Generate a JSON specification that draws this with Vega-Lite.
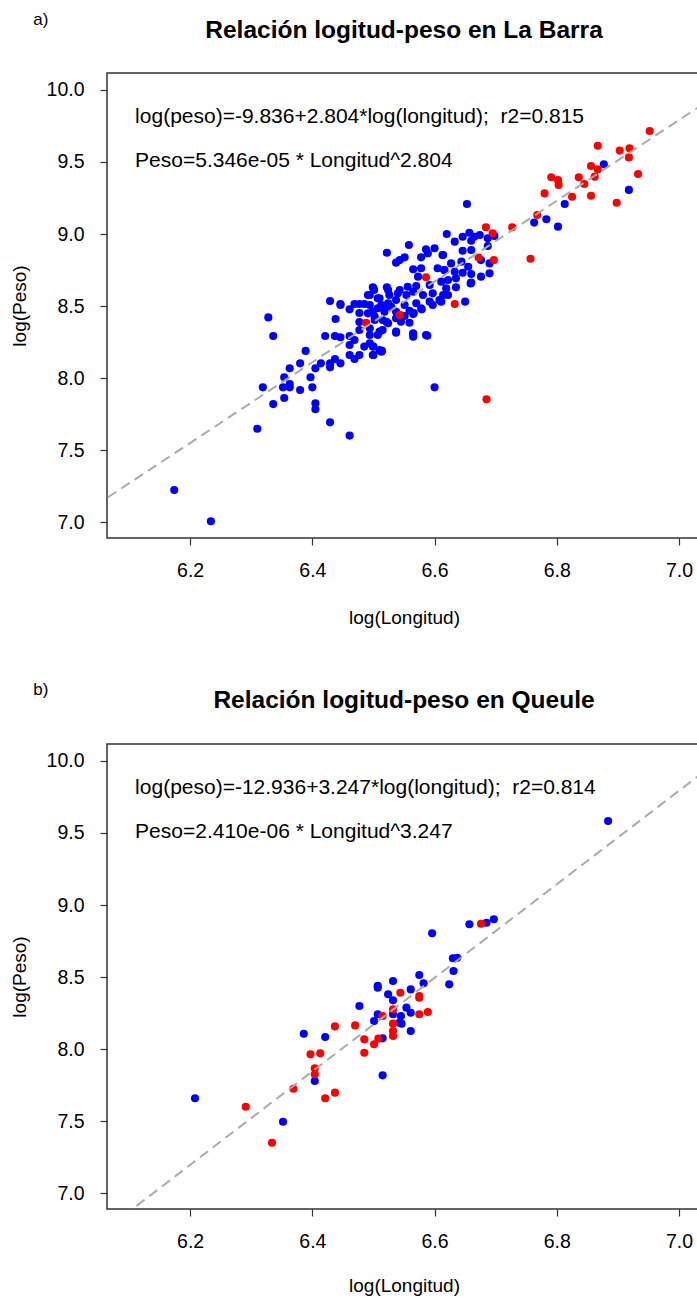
{
"$schema": "https://vega.github.io/schema/vega-lite/v6.json",
"background": "white",
"padding": {"left": 9, "top": 10, "right": 0, "bottom": 3},
"spacing": 51,
"datasets": {
"barra": [
{"longitud":6.174,"peso":7.222,"grupo":"azul"},{"longitud":6.234,"peso":7.005,"grupo":"azul"},{"longitud":6.310,"peso":7.648,"grupo":"azul"},{"longitud":6.328,"peso":8.421,"grupo":"azul"},{"longitud":6.336,"peso":8.292,"grupo":"azul"},{"longitud":6.319,"peso":7.935,"grupo":"azul"},{"longitud":6.336,"peso":7.819,"grupo":"azul"},{"longitud":6.354,"peso":7.861,"grupo":"azul"},{"longitud":6.354,"peso":8.005,"grupo":"azul"},{"longitud":6.363,"peso":8.067,"grupo":"azul"},{"longitud":6.352,"peso":7.935,"grupo":"azul"},{"longitud":6.363,"peso":7.935,"grupo":"azul"},{"longitud":6.363,"peso":7.958,"grupo":"azul"},{"longitud":6.380,"peso":7.917,"grupo":"azul"},{"longitud":6.380,"peso":8.102,"grupo":"azul"},{"longitud":6.389,"peso":8.188,"grupo":"azul"},{"longitud":6.397,"peso":8.005,"grupo":"azul"},{"longitud":6.400,"peso":7.935,"grupo":"azul"},{"longitud":6.405,"peso":7.824,"grupo":"azul"},{"longitud":6.405,"peso":7.783,"grupo":"azul"},{"longitud":6.405,"peso":8.067,"grupo":"azul"},{"longitud":6.414,"peso":8.102,"grupo":"azul"},{"longitud":6.429,"peso":7.692,"grupo":"azul"},{"longitud":6.461,"peso":7.600,"grupo":"azul"},{"longitud":6.429,"peso":8.074,"grupo":"azul"},{"longitud":6.429,"peso":8.102,"grupo":"azul"},{"longitud":6.437,"peso":8.132,"grupo":"azul"},{"longitud":6.446,"peso":8.102,"grupo":"azul"},{"longitud":6.421,"peso":8.292,"grupo":"azul"},{"longitud":6.437,"peso":8.292,"grupo":"azul"},{"longitud":6.446,"peso":8.283,"grupo":"azul"},{"longitud":6.461,"peso":8.292,"grupo":"azul"},{"longitud":6.438,"peso":8.410,"grupo":"azul"},{"longitud":6.429,"peso":8.535,"grupo":"azul"},{"longitud":6.446,"peso":8.514,"grupo":"azul"},{"longitud":6.461,"peso":8.229,"grupo":"azul"},{"longitud":6.469,"peso":8.264,"grupo":"azul"},{"longitud":6.461,"peso":8.160,"grupo":"azul"},{"longitud":6.469,"peso":8.132,"grupo":"azul"},{"longitud":6.477,"peso":8.160,"grupo":"azul"},{"longitud":6.485,"peso":8.218,"grupo":"azul"},{"longitud":6.500,"peso":8.160,"grupo":"azul"},{"longitud":6.500,"peso":8.218,"grupo":"azul"},{"longitud":6.514,"peso":8.188,"grupo":"azul"},{"longitud":6.461,"peso":8.477,"grupo":"azul"},{"longitud":6.469,"peso":8.514,"grupo":"azul"},{"longitud":6.477,"peso":8.514,"grupo":"azul"},{"longitud":6.485,"peso":8.514,"grupo":"azul"},{"longitud":6.477,"peso":8.451,"grupo":"azul"},{"longitud":6.477,"peso":8.389,"grupo":"azul"},{"longitud":6.477,"peso":8.333,"grupo":"azul"},{"longitud":6.494,"peso":8.299,"grupo":"azul"},{"longitud":6.507,"peso":8.299,"grupo":"azul"},{"longitud":6.515,"peso":8.333,"grupo":"azul"},{"longitud":6.524,"peso":8.380,"grupo":"azul"},{"longitud":6.537,"peso":8.322,"grupo":"azul"},{"longitud":6.499,"peso":8.630,"grupo":"azul"},{"longitud":6.522,"peso":8.630,"grupo":"azul"},{"longitud":6.491,"peso":8.576,"grupo":"azul"},{"longitud":6.507,"peso":8.553,"grupo":"azul"},{"longitud":6.524,"peso":8.519,"grupo":"azul"},{"longitud":6.540,"peso":8.588,"grupo":"azul"},{"longitud":6.507,"peso":8.484,"grupo":"azul"},{"longitud":6.521,"peso":8.484,"grupo":"azul"},{"longitud":6.491,"peso":8.449,"grupo":"azul"},{"longitud":6.502,"peso":8.426,"grupo":"azul"},{"longitud":6.515,"peso":8.403,"grupo":"azul"},
{"longitud":6.558,"peso":8.924,"grupo":"azul"},{"longitud":6.522,"peso":8.870,"grupo":"azul"},{"longitud":6.551,"peso":8.838,"grupo":"azul"},{"longitud":6.543,"peso":8.819,"grupo":"azul"},{"longitud":6.537,"peso":8.801,"grupo":"azul"},{"longitud":6.586,"peso":8.894,"grupo":"azul"},{"longitud":6.600,"peso":8.901,"grupo":"azul"},{"longitud":6.589,"peso":8.866,"grupo":"azul"},{"longitud":6.578,"peso":8.838,"grupo":"azul"},{"longitud":6.613,"peso":8.854,"grupo":"azul"},{"longitud":6.565,"peso":8.755,"grupo":"azul"},{"longitud":6.578,"peso":8.762,"grupo":"azul"},{"longitud":6.605,"peso":8.762,"grupo":"azul"},{"longitud":6.616,"peso":8.750,"grupo":"azul"},{"longitud":6.573,"peso":8.704,"grupo":"azul"},{"longitud":6.500,"peso":8.623,"grupo":"azul"},{"longitud":6.543,"peso":8.611,"grupo":"azul"},{"longitud":6.556,"peso":8.634,"grupo":"azul"},{"longitud":6.570,"peso":8.639,"grupo":"azul"},{"longitud":6.592,"peso":8.646,"grupo":"azul"},{"longitud":6.611,"peso":8.669,"grupo":"azul"},{"longitud":6.494,"peso":8.576,"grupo":"azul"},{"longitud":6.510,"peso":8.553,"grupo":"azul"},{"longitud":6.526,"peso":8.576,"grupo":"azul"},{"longitud":6.537,"peso":8.542,"grupo":"azul"},{"longitud":6.554,"peso":8.576,"grupo":"azul"},{"longitud":6.565,"peso":8.599,"grupo":"azul"},{"longitud":6.581,"peso":8.576,"grupo":"azul"},{"longitud":6.597,"peso":8.588,"grupo":"azul"},{"longitud":6.494,"peso":8.507,"grupo":"azul"},{"longitud":6.513,"peso":8.507,"grupo":"azul"},{"longitud":6.529,"peso":8.495,"grupo":"azul"},{"longitud":6.551,"peso":8.507,"grupo":"azul"},{"longitud":6.570,"peso":8.519,"grupo":"azul"},{"longitud":6.592,"peso":8.530,"grupo":"azul"},{"longitud":6.608,"peso":8.542,"grupo":"azul"},{"longitud":6.499,"peso":8.460,"grupo":"azul"},{"longitud":6.518,"peso":8.460,"grupo":"azul"},{"longitud":6.537,"peso":8.460,"grupo":"azul"},{"longitud":6.559,"peso":8.467,"grupo":"azul"},{"longitud":6.578,"peso":8.484,"grupo":"azul"},{"longitud":6.597,"peso":8.507,"grupo":"azul"},{"longitud":6.565,"peso":8.444,"grupo":"azul"},{"longitud":6.502,"peso":8.403,"grupo":"azul"},{"longitud":6.521,"peso":8.391,"grupo":"azul"},{"longitud":6.537,"peso":8.415,"grupo":"azul"},{"longitud":6.559,"peso":8.384,"grupo":"azul"},{"longitud":6.494,"peso":8.345,"grupo":"azul"},{"longitud":6.510,"peso":8.322,"grupo":"azul"},{"longitud":6.537,"peso":8.315,"grupo":"azul"},{"longitud":6.565,"peso":8.306,"grupo":"azul"},{"longitud":6.586,"peso":8.299,"grupo":"azul"},{"longitud":6.494,"peso":8.241,"grupo":"azul"},{"longitud":6.499,"peso":8.218,"grupo":"azul"},{"longitud":6.510,"peso":8.194,"grupo":"azul"},{"longitud":6.499,"peso":8.160,"grupo":"azul"},{"longitud":6.513,"peso":8.183,"grupo":"azul"},
{"longitud":6.653,"peso":9.208,"grupo":"azul"},{"longitud":6.620,"peso":9.000,"grupo":"azul"},{"longitud":6.633,"peso":8.947,"grupo":"azul"},{"longitud":6.646,"peso":8.981,"grupo":"azul"},{"longitud":6.657,"peso":9.009,"grupo":"azul"},{"longitud":6.665,"peso":8.981,"grupo":"azul"},{"longitud":6.674,"peso":8.993,"grupo":"azul"},{"longitud":6.660,"peso":8.953,"grupo":"azul"},{"longitud":6.687,"peso":8.970,"grupo":"azul"},{"longitud":6.698,"peso":8.986,"grupo":"azul"},{"longitud":6.687,"peso":8.917,"grupo":"azul"},{"longitud":6.614,"peso":8.854,"grupo":"azul"},{"longitud":6.646,"peso":8.884,"grupo":"azul"},{"longitud":6.660,"peso":8.889,"grupo":"azul"},{"longitud":6.676,"peso":8.819,"grupo":"azul"},{"longitud":6.690,"peso":8.796,"grupo":"azul"},{"longitud":6.627,"peso":8.796,"grupo":"azul"},{"longitud":6.644,"peso":8.808,"grupo":"azul"},{"longitud":6.655,"peso":8.773,"grupo":"azul"},{"longitud":6.616,"peso":8.750,"grupo":"azul"},{"longitud":6.633,"peso":8.738,"grupo":"azul"},{"longitud":6.646,"peso":8.731,"grupo":"azul"},{"longitud":6.660,"peso":8.722,"grupo":"azul"},{"longitud":6.690,"peso":8.727,"grupo":"azul"},{"longitud":6.676,"peso":8.704,"grupo":"azul"},{"longitud":6.622,"peso":8.681,"grupo":"azul"},{"longitud":6.635,"peso":8.692,"grupo":"azul"},{"longitud":6.660,"peso":8.662,"grupo":"azul"},{"longitud":6.619,"peso":8.623,"grupo":"azul"},{"longitud":6.635,"peso":8.630,"grupo":"azul"},{"longitud":6.614,"peso":8.576,"grupo":"azul"},{"longitud":6.622,"peso":8.576,"grupo":"azul"},{"longitud":6.611,"peso":8.530,"grupo":"azul"},{"longitud":6.650,"peso":8.530,"grupo":"azul"},
{"longitud":6.877,"peso":9.484,"grupo":"azul"},{"longitud":6.918,"peso":9.306,"grupo":"azul"},{"longitud":6.813,"peso":9.208,"grupo":"azul"},{"longitud":6.763,"peso":9.079,"grupo":"azul"},{"longitud":6.783,"peso":9.102,"grupo":"azul"},{"longitud":6.802,"peso":9.051,"grupo":"azul"},
{"longitud":6.659,"peso":8.657,"grupo":"azul"},{"longitud":6.565,"peso":8.310,"grupo":"azul"},{"longitud":6.565,"peso":8.287,"grupo":"azul"},{"longitud":6.588,"peso":8.294,"grupo":"azul"},{"longitud":6.600,"peso":7.935,"grupo":"azul"},{"longitud":6.579,"peso":8.477,"grupo":"azul"},{"longitud":6.566,"peso":8.451,"grupo":"azul"},{"longitud":6.551,"peso":8.431,"grupo":"azul"},{"longitud":6.545,"peso":8.391,"grupo":"azul"},{"longitud":6.501,"peso":8.611,"grupo":"azul"},{"longitud":6.524,"peso":8.611,"grupo":"azul"},{"longitud":6.446,"peso":8.507,"grupo":"azul"},
{"longitud":6.952,"peso":9.715,"grupo":"rojo"},{"longitud":6.867,"peso":9.613,"grupo":"rojo"},{"longitud":6.903,"peso":9.579,"grupo":"rojo"},{"longitud":6.919,"peso":9.595,"grupo":"rojo"},{"longitud":6.918,"peso":9.532,"grupo":"rojo"},{"longitud":6.856,"peso":9.472,"grupo":"rojo"},{"longitud":6.867,"peso":9.449,"grupo":"rojo"},{"longitud":6.862,"peso":9.398,"grupo":"rojo"},{"longitud":6.933,"peso":9.417,"grupo":"rojo"},{"longitud":6.791,"peso":9.394,"grupo":"rojo"},{"longitud":6.802,"peso":9.375,"grupo":"rojo"},{"longitud":6.803,"peso":9.340,"grupo":"rojo"},{"longitud":6.836,"peso":9.394,"grupo":"rojo"},{"longitud":6.845,"peso":9.347,"grupo":"rojo"},{"longitud":6.780,"peso":9.282,"grupo":"rojo"},{"longitud":6.825,"peso":9.259,"grupo":"rojo"},{"longitud":6.856,"peso":9.266,"grupo":"rojo"},{"longitud":6.898,"peso":9.217,"grupo":"rojo"},{"longitud":6.768,"peso":9.132,"grupo":"rojo"},{"longitud":6.684,"peso":9.047,"grupo":"rojo"},{"longitud":6.727,"peso":9.047,"grupo":"rojo"},{"longitud":6.695,"peso":9.005,"grupo":"rojo"},{"longitud":6.672,"peso":8.836,"grupo":"rojo"},{"longitud":6.697,"peso":8.819,"grupo":"rojo"},{"longitud":6.757,"peso":8.828,"grupo":"rojo"},{"longitud":6.586,"peso":8.699,"grupo":"rojo"},{"longitud":6.633,"peso":8.514,"grupo":"rojo"},{"longitud":6.543,"peso":8.438,"grupo":"rojo"},{"longitud":6.488,"peso":8.384,"grupo":"rojo"},{"longitud":6.685,"peso":7.852,"grupo":"rojo"}
],
"queule": [
{"longitud":6.208,"peso":7.658,"grupo":"azul"},{"longitud":6.352,"peso":7.495,"grupo":"azul"},{"longitud":6.404,"peso":7.778,"grupo":"azul"},{"longitud":6.386,"peso":8.106,"grupo":"azul"},{"longitud":6.421,"peso":8.083,"grupo":"azul"},{"longitud":6.477,"peso":8.299,"grupo":"azul"},{"longitud":6.515,"peso":8.074,"grupo":"azul"},{"longitud":6.515,"peso":7.817,"grupo":"azul"},{"longitud":6.501,"peso":8.194,"grupo":"azul"},{"longitud":6.507,"peso":8.241,"grupo":"azul"},{"longitud":6.507,"peso":8.438,"grupo":"azul"},{"longitud":6.507,"peso":8.426,"grupo":"azul"},{"longitud":6.532,"peso":8.472,"grupo":"azul"},{"longitud":6.524,"peso":8.380,"grupo":"azul"},{"longitud":6.532,"peso":8.338,"grupo":"azul"},{"longitud":6.532,"peso":8.241,"grupo":"azul"},{"longitud":6.543,"peso":8.183,"grupo":"azul"},{"longitud":6.697,"peso":8.901,"grupo":"azul"},{"longitud":6.685,"peso":8.877,"grupo":"azul"},{"longitud":6.657,"peso":8.866,"grupo":"azul"},{"longitud":6.596,"peso":8.803,"grupo":"azul"},{"longitud":6.630,"peso":8.630,"grupo":"azul"},{"longitud":6.637,"peso":8.634,"grupo":"azul"},{"longitud":6.631,"peso":8.542,"grupo":"azul"},{"longitud":6.624,"peso":8.449,"grupo":"azul"},{"longitud":6.575,"peso":8.514,"grupo":"azul"},{"longitud":6.582,"peso":8.456,"grupo":"azul"},{"longitud":6.561,"peso":8.414,"grupo":"azul"},{"longitud":6.554,"peso":8.287,"grupo":"azul"},{"longitud":6.561,"peso":8.252,"grupo":"azul"},{"longitud":6.545,"peso":8.229,"grupo":"azul"},{"longitud":6.546,"peso":8.176,"grupo":"azul"},{"longitud":6.561,"peso":8.125,"grupo":"azul"},{"longitud":6.884,"peso":9.583,"grupo":"azul"},
{"longitud":6.291,"peso":7.599,"grupo":"rojo"},{"longitud":6.334,"peso":7.349,"grupo":"rojo"},{"longitud":6.369,"peso":7.724,"grupo":"rojo"},{"longitud":6.404,"peso":7.824,"grupo":"rojo"},{"longitud":6.404,"peso":7.866,"grupo":"rojo"},{"longitud":6.397,"peso":7.963,"grupo":"rojo"},{"longitud":6.413,"peso":7.970,"grupo":"rojo"},{"longitud":6.421,"peso":7.658,"grupo":"rojo"},{"longitud":6.437,"peso":7.697,"grupo":"rojo"},{"longitud":6.437,"peso":8.157,"grupo":"rojo"},{"longitud":6.470,"peso":8.164,"grupo":"rojo"},{"longitud":6.485,"peso":8.067,"grupo":"rojo"},{"longitud":6.485,"peso":7.974,"grupo":"rojo"},{"longitud":6.501,"peso":8.033,"grupo":"rojo"},{"longitud":6.508,"peso":8.072,"grupo":"rojo"},{"longitud":6.515,"peso":8.229,"grupo":"rojo"},{"longitud":6.532,"peso":8.276,"grupo":"rojo"},{"longitud":6.532,"peso":8.176,"grupo":"rojo"},{"longitud":6.532,"peso":8.125,"grupo":"rojo"},{"longitud":6.532,"peso":8.090,"grupo":"rojo"},{"longitud":6.544,"peso":8.391,"grupo":"rojo"},{"longitud":6.575,"peso":8.368,"grupo":"rojo"},{"longitud":6.575,"peso":8.356,"grupo":"rojo"},{"longitud":6.575,"peso":8.241,"grupo":"rojo"},{"longitud":6.589,"peso":8.257,"grupo":"rojo"},{"longitud":6.676,"peso":8.870,"grupo":"rojo"}
]
},
"vconcat": [
{
"title": {"text": "a)", "anchor": "start", "frame": "bounds", "fontSize": 17, "fontWeight": "normal", "dx": 24, "offset": -12},
"vconcat": [{
"width": 594, "height": 465,
"title": {"text": "Relación logitud-peso en La Barra", "frame": "group", "anchor": "middle", "fontSize": 24.5, "fontWeight": "bold", "offset": 30},
"layer": [
{"data": {"name": "barra"},
 "mark": {"type": "circle", "size": 66, "opacity": 1},
 "encoding": {
  "x": {"field": "longitud", "type": "quantitative", "scale": {"domain": [6.064, 7.036], "nice": false, "zero": false}, "axis": {"title": "log(Longitud)", "values": [6.2, 6.4, 6.6, 6.8, 7.0], "format": ".1f"}},
  "y": {"field": "peso", "type": "quantitative", "scale": {"domain": [6.889, 10.118], "nice": false, "zero": false}, "axis": {"title": "log(Peso)", "values": [7, 7.5, 8, 8.5, 9, 9.5, 10], "format": ".1f"}},
  "color": {"field": "grupo", "type": "nominal", "scale": {"domain": ["azul", "rojo"], "range": ["#0000FF", "#FF0000"]}, "legend": null}}},
{"data": {"values": [{}]},
 "mark": {"type": "rule", "clip": true, "strokeDash": [10, 6], "color": "#AAAAAA", "strokeWidth": 2},
 "encoding": {
  "x": {"datum": 6.0, "type": "quantitative", "scale": {"domain": [6.064, 7.036], "nice": false, "zero": false}},
  "y": {"datum": 6.988, "type": "quantitative", "scale": {"domain": [6.889, 10.118], "nice": false, "zero": false}},
  "x2": {"datum": 7.1}, "y2": {"datum": 10.072}}},
{"data": {"values": [{}]},
 "mark": {"type": "text", "align": "left", "baseline": "middle", "fontSize": 21, "text": "log(peso)=-9.836+2.804*log(longitud); \u00a0r2=0.815"},
 "encoding": {
  "x": {"datum": 6.11, "type": "quantitative", "scale": {"domain": [6.064, 7.036], "nice": false, "zero": false}},
  "y": {"datum": 9.81, "type": "quantitative", "scale": {"domain": [6.889, 10.118], "nice": false, "zero": false}}}},
{"data": {"values": [{}]},
 "mark": {"type": "text", "align": "left", "baseline": "middle", "fontSize": 21, "text": "Peso=5.346e-05 * Longitud^2.804"},
 "encoding": {
  "x": {"datum": 6.11, "type": "quantitative", "scale": {"domain": [6.064, 7.036], "nice": false, "zero": false}},
  "y": {"datum": 9.51, "type": "quantitative", "scale": {"domain": [6.889, 10.118], "nice": false, "zero": false}}}}
]
}]
},
{
"title": {"text": "b)", "anchor": "start", "frame": "bounds", "fontSize": 17, "fontWeight": "normal", "dx": 24, "offset": -12},
"vconcat": [{
"width": 594, "height": 465,
"title": {"text": "Relación logitud-peso en Queule", "frame": "group", "anchor": "middle", "fontSize": 24.5, "fontWeight": "bold", "offset": 31},
"layer": [
{"data": {"name": "queule"},
 "mark": {"type": "circle", "size": 66, "opacity": 1},
 "encoding": {
  "x": {"field": "longitud", "type": "quantitative", "scale": {"domain": [6.064, 7.036], "nice": false, "zero": false}, "axis": {"title": "log(Longitud)", "values": [6.2, 6.4, 6.6, 6.8, 7.0], "format": ".1f", "titlePadding": 26}},
  "y": {"field": "peso", "type": "quantitative", "scale": {"domain": [6.889, 10.118], "nice": false, "zero": false}, "axis": {"title": "log(Peso)", "values": [7, 7.5, 8, 8.5, 9, 9.5, 10], "format": ".1f"}},
  "color": {"field": "grupo", "type": "nominal", "scale": {"domain": ["azul", "rojo"], "range": ["#0000FF", "#FF0000"]}, "legend": null}}},
{"data": {"values": [{}]},
 "mark": {"type": "rule", "clip": true, "strokeDash": [10, 6], "color": "#AAAAAA", "strokeWidth": 2},
 "encoding": {
  "x": {"datum": 6.05, "type": "quantitative", "scale": {"domain": [6.064, 7.036], "nice": false, "zero": false}},
  "y": {"datum": 6.708, "type": "quantitative", "scale": {"domain": [6.889, 10.118], "nice": false, "zero": false}},
  "x2": {"datum": 7.1}, "y2": {"datum": 10.118}}},
{"data": {"values": [{}]},
 "mark": {"type": "text", "align": "left", "baseline": "middle", "fontSize": 21, "text": "log(peso)=-12.936+3.247*log(longitud); \u00a0r2=0.814"},
 "encoding": {
  "x": {"datum": 6.11, "type": "quantitative", "scale": {"domain": [6.064, 7.036], "nice": false, "zero": false}},
  "y": {"datum": 9.81, "type": "quantitative", "scale": {"domain": [6.889, 10.118], "nice": false, "zero": false}}}},
{"data": {"values": [{}]},
 "mark": {"type": "text", "align": "left", "baseline": "middle", "fontSize": 21, "text": "Peso=2.410e-06 * Longitud^3.247"},
 "encoding": {
  "x": {"datum": 6.11, "type": "quantitative", "scale": {"domain": [6.064, 7.036], "nice": false, "zero": false}},
  "y": {"datum": 9.51, "type": "quantitative", "scale": {"domain": [6.889, 10.118], "nice": false, "zero": false}}}}
]
}]
}
],
"config": {
"font": "Liberation Sans",
"view": {"stroke": "#333333", "strokeWidth": 1.5},
"text": {"font": "Liberation Sans", "color": "#000000"},
"axis": {"grid": false, "domain": false, "ticks": true, "tickColor": "#333333", "tickSize": 7, "tickWidth": 1.2,
 "labelFont": "Liberation Sans", "labelFontSize": 19.5, "labelColor": "#000000", "labelPadding": 16,
 "titleFont": "Liberation Sans", "titleFontSize": 19, "titleFontWeight": "normal", "titleColor": "#000000"},
"axisY": {"titlePadding": 17, "labelAngle": 0},
"axisX": {"titlePadding": 29},
"title": {"font": "Liberation Sans", "color": "#000000"}
}
}
